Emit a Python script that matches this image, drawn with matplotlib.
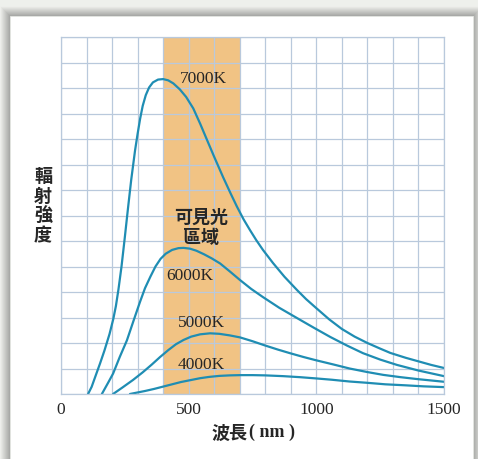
import matplotlib.pyplot as plt
from matplotlib.patches import Rectangle

plt.rcParams['font.family'] = ['Noto Sans CJK TC', 'DejaVu Sans']

# blackbody curves (wavelength nm, relative intensity)
nm_7000 = [106, 120, 135, 153, 170, 190, 205, 215, 225, 237, 250, 262, 275, 290, 300,
           310, 320, 332, 345, 360, 380, 400, 420, 440, 465, 490, 518, 545, 572, 600,
           635, 665, 689, 715, 740, 765, 791, 830, 875, 924, 960, 995, 1050, 1100,
           1150, 1200, 1250, 1290, 1350, 1400, 1450, 1500]
int_7000 = [0, 0.28, 0.7, 1.2, 1.7, 2.35, 2.95, 3.45, 4.1, 5.0, 6.15, 7.25, 8.4, 9.55, 10.2,
            10.8, 11.3, 11.72, 12.02, 12.22, 12.33, 12.35, 12.3, 12.18, 11.95, 11.65, 11.2,
            10.6, 9.96, 9.3, 8.5, 7.85, 7.35, 6.85, 6.43, 6.03, 5.65, 5.14, 4.6, 4.08,
            3.72, 3.41, 2.93, 2.55, 2.25, 2.0, 1.78, 1.61, 1.42, 1.28, 1.14, 1.02]

nm_6000 = [160, 185, 204, 230, 258, 285, 309, 329, 350, 370, 390, 410, 435, 460, 480,
           505, 530, 560, 590, 623, 662, 701, 745, 791, 855, 924, 990, 1054, 1120,
           1183, 1250, 1316, 1400, 1500]
int_6000 = [0, 0.45, 0.8, 1.45, 2.1, 2.9, 3.6, 4.15, 4.6, 5.0, 5.3, 5.5, 5.65, 5.72, 5.73,
            5.7, 5.62, 5.48, 5.32, 5.12, 4.8, 4.47, 4.12, 3.8, 3.38, 2.98, 2.6, 2.24, 1.9,
            1.6, 1.35, 1.14, 0.92, 0.7]

nm_5000 = [204, 240, 282, 320, 355, 388, 420, 450, 480, 510, 545, 584, 620, 660, 701,
           750, 800, 850, 897, 950, 1000, 1066, 1130, 1200, 1262, 1330, 1400, 1500]
int_5000 = [0, 0.25, 0.55, 0.85, 1.15, 1.45, 1.72, 1.95, 2.12, 2.25, 2.34, 2.38, 2.36,
            2.3, 2.22, 2.07, 1.9, 1.74, 1.6, 1.45, 1.32, 1.16, 1.0, 0.86, 0.75, 0.66,
            0.58, 0.48]

nm_4000 = [270, 300, 330, 365, 400, 435, 470, 510, 545, 580, 620, 660, 701, 750, 800,
           870, 936, 1000, 1060, 1130, 1198, 1270, 1350, 1420, 1500]
int_4000 = [0, 0.06, 0.12, 0.2, 0.29, 0.38, 0.47, 0.55, 0.62, 0.67, 0.71, 0.73, 0.74,
            0.74, 0.73, 0.7, 0.66, 0.61, 0.56, 0.49, 0.44, 0.38, 0.34, 0.3, 0.27]

visible_band = (400, 700)

curve_labels = ["7000K", "6000K", "5000K", "4000K"]
label_pos = [(466, 12.35), (411, 4.63), (458, 2.78), (458, 1.14)]

curve_color = "#1f8db3"
grid_color = "#b9c9dc"
text_color = "#262626"

fig = plt.figure(figsize=(4.78, 4.59), dpi=100)
fig.patch.set_facecolor("#eef0ec")

# background card with a soft shadow, in pixel coordinates
bg = fig.add_axes([0, 0, 1, 1], zorder=-1)
bg.set_xlim(0, 478)
bg.set_ylim(459, 0)
bg.axis("off")
for d in range(10, 0, -1):
    shade = 0.93 - 0.3 * (10 - d) / 10
    bg.add_patch(Rectangle((10 - d, 16 - d), 463 + 2 * d, 460, fc=(shade, shade * 1.005, shade * 0.99), ec="none"))
bg.add_patch(Rectangle((10, 16), 463, 460, fc="white", ec="#e4e6e2", lw=0.6))

ax = fig.add_axes([61 / 478, 65 / 459, 383 / 478, 357 / 459])
ax.set_xlim(0, 1500)
ax.set_ylim(0, 14)
ax.axvspan(*visible_band, color="#f1c384", lw=0)

for x, y in [(nm_7000, int_7000), (nm_6000, int_6000), (nm_5000, int_5000), (nm_4000, int_4000)]:
    ax.plot(x, y, color=curve_color, lw=1.6, solid_capstyle="round", solid_joinstyle="round")

for label, (x, y) in zip(curve_labels, label_pos):
    ax.text(x, y, label, ha="left", va="center", fontsize=12.5,
            family="Liberation Serif", color=text_color)

ax.text(548, 6.53, "可見光\n區域", ha="center", va="center", fontsize=13,
        fontweight="bold", color=text_color, linespacing=1.1)

ax.set_xticks([0, 500, 1000, 1500])
ax.set_xticks(range(0, 1501, 100), minor=True)
ax.set_yticks(range(0, 15))
ax.set_yticklabels([])
ax.tick_params(which="both", length=0)
ax.tick_params(axis="x", pad=6, labelsize=12.5, labelcolor=text_color)
for lbl in ax.get_xticklabels():
    lbl.set_family("Liberation Serif")
ax.grid(True, which="both", color=grid_color, lw=0.9)
ax.set_axisbelow("line")
for spine in ax.spines.values():
    spine.set_color(grid_color)
    spine.set_linewidth(0.9)

fig.text(43 / 478, 1 - 206 / 459, "輻\n射\n強\n度", ha="center", va="center",
         fontsize=13, fontweight="bold", color=text_color, linespacing=1.05)
# x label: CJK word plus serif unit
fig.text(248 / 478, 1 - 433 / 459, "波長", ha="right", va="center",
         fontsize=13, fontweight="bold", color=text_color)
fig.text(249 / 478, 1 - 432 / 459, "( nm )", ha="left", va="center",
         fontsize=13, family="Liberation Serif", fontweight="bold", color=text_color)

fig.savefig("out.png", dpi=100, facecolor=fig.get_facecolor())
